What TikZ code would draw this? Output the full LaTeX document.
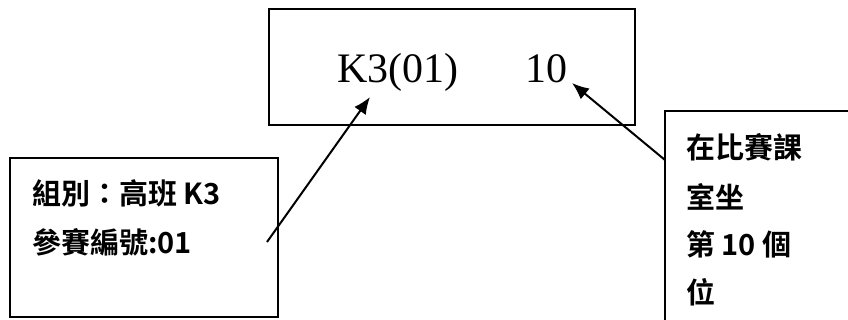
\documentclass[tikz,border=0pt]{standalone}
\usepackage{fontspec}
\setmainfont{Liberation Serif}
\newfontfamily\cjk{Noto Sans CJK TC}[BoldFont={* Bold}]
\usetikzlibrary{arrows.meta}
\begin{document}
\begin{tikzpicture}[x=1pt,y=-1pt,
  box/.style={draw,line width=2pt,inner sep=0pt},
  cjktxt/.style={anchor=west,inner sep=0pt,font=\cjk\bfseries\fontsize{29}{30}\selectfont},
  bigtxt/.style={inner sep=0pt,font=\fontsize{42}{46}\selectfont},
  arr/.style={line width=2pt,-{Latex[length=17pt,width=14pt]}}]
\useasboundingbox (0,0) rectangle (848,320);
% top box
\node[box,minimum width=366pt,minimum height=116pt] (top) at (452,67) {};
\node[bigtxt,anchor=base] (k3) at (398,83) {K3(01)};
\node[bigtxt,anchor=base] (ten) at (546,83) {10};
% left box
\node[box,minimum width=268pt,minimum height=159pt] (left) at (144,237.5) {};
\node[cjktxt] (l1) at (32,193) {組別：高班 K3};
\node[cjktxt] (l2) at (32,242) {參賽編號:01};
% right box
\node[box,minimum width=220pt,minimum height=235pt] (right) at (775,228.5) {};
\node[cjktxt] (r1) at (686,147) {在比賽課};
\node[cjktxt] (r2) at (686,197) {室坐};
\node[cjktxt] (r3) at (686,244) {第 10 個};
\node[cjktxt] (r4) at (686,292) {位};
% connectors
\coordinate (t1) at (267,242);
\coordinate (h1) at (370,97);
\coordinate (t2) at (665,160);
\coordinate (h2) at (572,83);
\draw[arr] (t1) -- (h1);
\draw[arr] (t2) -- (h2);
\end{tikzpicture}
\end{document}
